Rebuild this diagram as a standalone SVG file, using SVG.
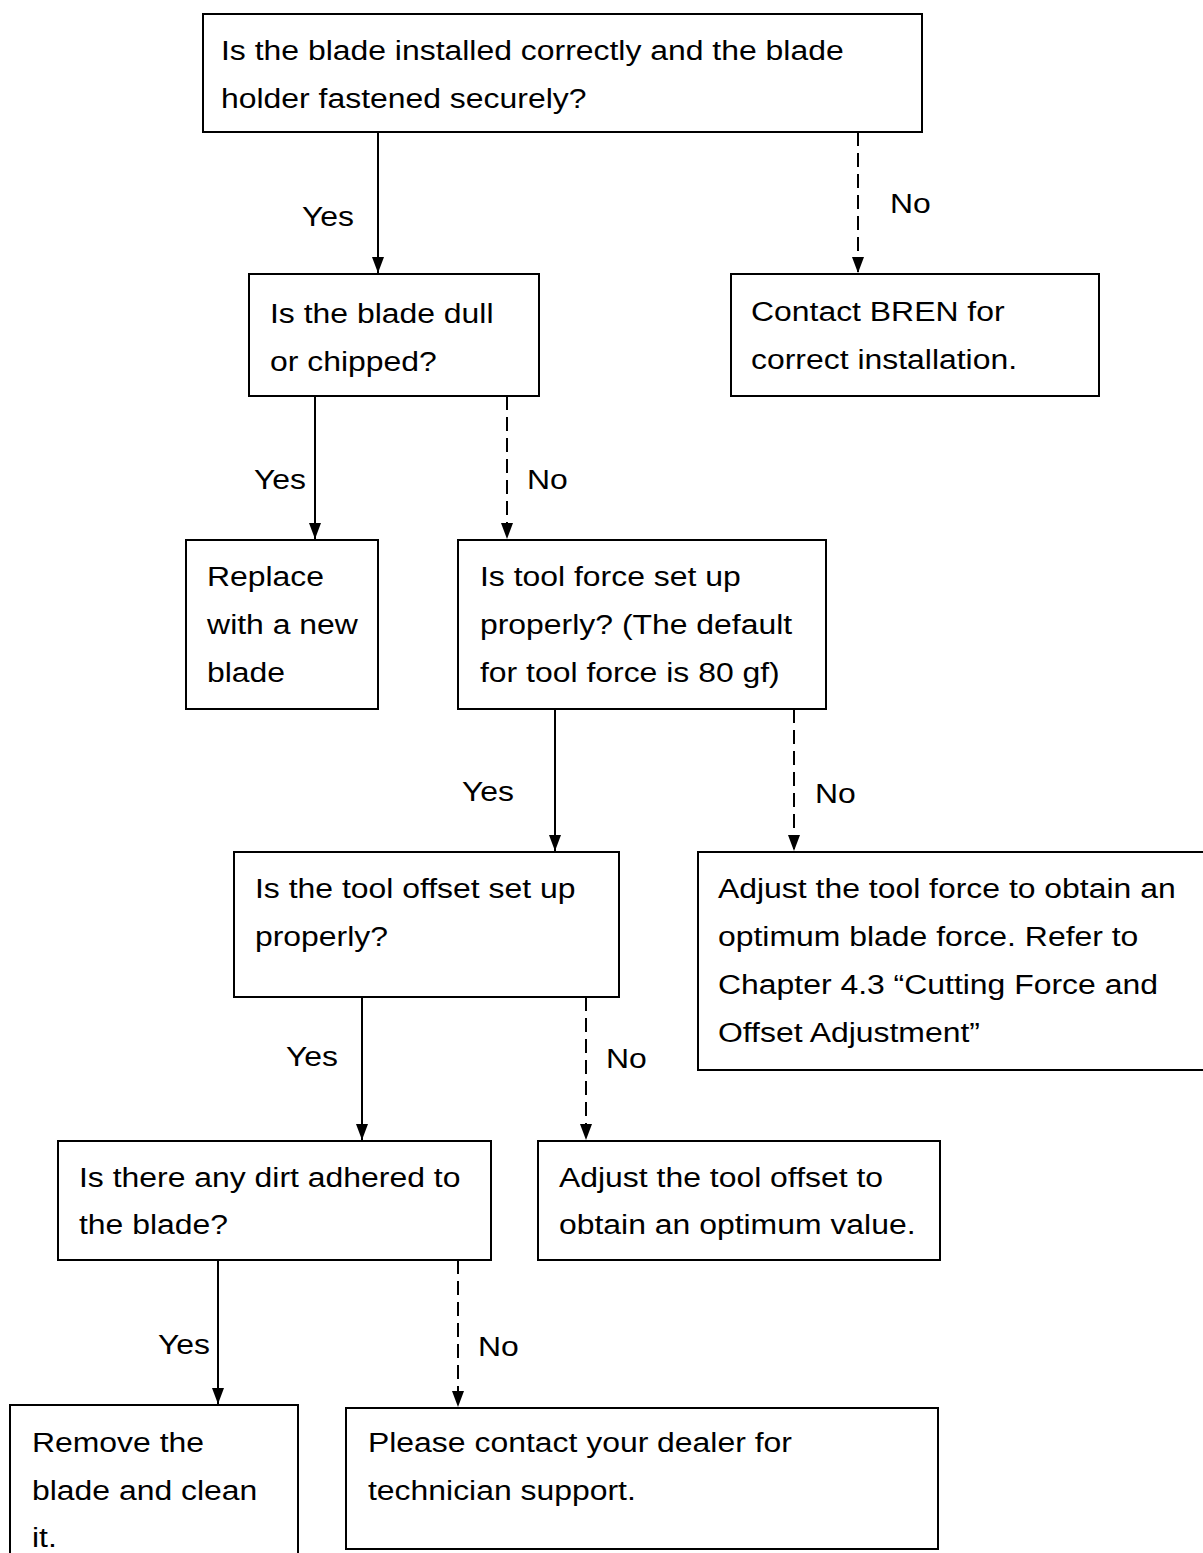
<svg xmlns="http://www.w3.org/2000/svg" width="1203" height="1553" viewBox="0 0 1203 1553">
<style>
.box{fill:#fff;stroke:#000;stroke-width:2}
.t{font-family:"Liberation Sans",Arial,sans-serif;font-size:28px;fill:#000;transform-box:fill-box;transform-origin:left center;transform:scaleX(1.14)}
.ln{stroke:#000;stroke-width:2;fill:none}
.dash{stroke-dasharray:14 7}
</style>
<defs>
<marker id="ah" viewBox="0 0 16 12" refX="16" refY="6" markerWidth="16" markerHeight="12" markerUnits="userSpaceOnUse" orient="auto">
<path d="M0 0 L16 6 L0 12 Z" fill="#000"/>
</marker>
</defs>
<rect width="1203" height="1553" fill="#fff"/>
<g id="connectors">
<line class="ln" x1="378" y1="132" x2="378" y2="273" marker-end="url(#ah)"/>
<line class="ln dash" x1="858" y1="132" x2="858" y2="273" marker-end="url(#ah)"/>
<line class="ln" x1="315" y1="396" x2="315" y2="539" marker-end="url(#ah)"/>
<line class="ln dash" x1="507" y1="396" x2="507" y2="539" marker-end="url(#ah)"/>
<line class="ln" x1="555" y1="709" x2="555" y2="851" marker-end="url(#ah)"/>
<line class="ln dash" x1="794" y1="709" x2="794" y2="851" marker-end="url(#ah)"/>
<line class="ln" x1="362" y1="997" x2="362" y2="1140" marker-end="url(#ah)"/>
<line class="ln dash" x1="586" y1="997" x2="586" y2="1140" marker-end="url(#ah)"/>
<line class="ln" x1="218" y1="1260" x2="218" y2="1404" marker-end="url(#ah)"/>
<line class="ln dash" x1="458" y1="1260" x2="458" y2="1407" marker-end="url(#ah)"/>
<text class="t" x="302" y="226">Yes</text>
<text class="t" x="890" y="213">No</text>
<text class="t" x="254" y="489">Yes</text>
<text class="t" x="527" y="489">No</text>
<text class="t" x="462" y="801">Yes</text>
<text class="t" x="815" y="803">No</text>
<text class="t" x="286" y="1066">Yes</text>
<text class="t" x="606" y="1068">No</text>
<text class="t" x="158" y="1354">Yes</text>
<text class="t" x="478" y="1356">No</text>
</g>
<g id="n1"><rect class="box" x="203" y="14" width="719" height="118"/>
<text class="t" x="221" y="60">Is the blade installed correctly and the blade</text>
<text class="t" x="221" y="108">holder fastened securely?</text></g>
<g id="n2"><rect class="box" x="249" y="274" width="290" height="122"/>
<text class="t" x="270" y="323">Is the blade dull</text>
<text class="t" x="270" y="371">or chipped?</text></g>
<g id="n3"><rect class="box" x="731" y="274" width="368" height="122"/>
<text class="t" x="751" y="321">Contact BREN for</text>
<text class="t" x="751" y="369">correct installation.</text></g>
<g id="n4"><rect class="box" x="186" y="540" width="192" height="169"/>
<text class="t" x="207" y="586">Replace</text>
<text class="t" x="207" y="634">with a new</text>
<text class="t" x="207" y="682">blade</text></g>
<g id="n5"><rect class="box" x="458" y="540" width="368" height="169"/>
<text class="t" x="480" y="586">Is tool force set up</text>
<text class="t" x="480" y="634">properly? (The default</text>
<text class="t" x="480" y="682">for tool force is 80 gf)</text></g>
<g id="n6"><rect class="box" x="234" y="852" width="385" height="145"/>
<text class="t" x="255" y="898">Is the tool offset set up</text>
<text class="t" x="255" y="946">properly?</text></g>
<g id="n7"><rect class="box" x="698" y="852" width="512" height="218"/>
<text class="t" x="718" y="898">Adjust the tool force to obtain an</text>
<text class="t" x="718" y="946">optimum blade force. Refer to</text>
<text class="t" x="718" y="994">Chapter 4.3 “Cutting Force and</text>
<text class="t" x="718" y="1042">Offset Adjustment”</text></g>
<g id="n8"><rect class="box" x="58" y="1141" width="433" height="119"/>
<text class="t" x="79" y="1187">Is there any dirt adhered to</text>
<text class="t" x="79" y="1234">the blade?</text></g>
<g id="n9"><rect class="box" x="538" y="1141" width="402" height="119"/>
<text class="t" x="559" y="1187">Adjust the tool offset to</text>
<text class="t" x="559" y="1234">obtain an optimum value.</text></g>
<g id="n10"><rect class="box" x="10" y="1405" width="288" height="160"/>
<text class="t" x="32" y="1452">Remove the</text>
<text class="t" x="32" y="1500">blade and clean</text>
<text class="t" x="32" y="1547">it.</text></g>
<g id="n11"><rect class="box" x="346" y="1408" width="592" height="141"/>
<text class="t" x="368" y="1452">Please contact your dealer for</text>
<text class="t" x="368" y="1500">technician support.</text></g>
</svg>
